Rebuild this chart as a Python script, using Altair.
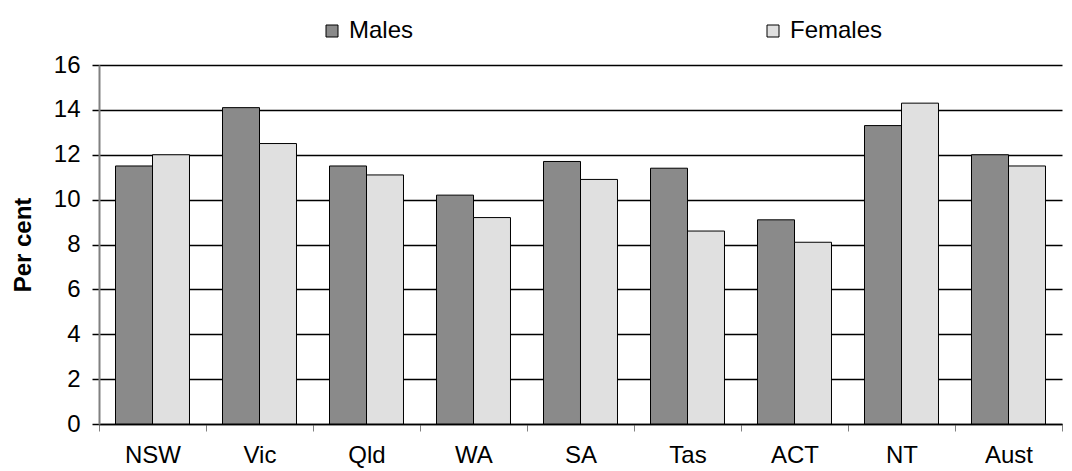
import altair as alt
import pandas as pd

# Share of population by state/territory, split by sex
regions = ["NSW", "Vic", "Qld", "WA", "SA", "Tas", "ACT", "NT", "Aust"]
males = [11.5, 14.1, 11.5, 10.2, 11.7, 11.4, 9.1, 13.3, 12.0]
females = [12.0, 12.5, 11.1, 9.2, 10.9, 8.6, 8.1, 14.3, 11.5]
series = ["Males", "Females"]
y_ticks = [0, 2, 4, 6, 8, 10, 12, 14, 16]

rows = []
for r, m, f in zip(regions, males, females):
    rows.append({"Region": r, "Sex": "Males", "Value": m})
    rows.append({"Region": r, "Sex": "Females", "Value": f})
df = pd.DataFrame(rows)

FONT = "Liberation Sans"
FS = 24

chart = (
    alt.Chart(df)
    .mark_bar(stroke="black", strokeWidth=1)
    .encode(
        x=alt.X(
            "Region:N",
            sort=regions,
            scale=alt.Scale(paddingInner=0, paddingOuter=0),
            axis=alt.Axis(
                title=None,
                labelAngle=0,
                tickBand="extent",
                tickSize=7,
                tickColor="#808080",
                domainColor="black",
                domainWidth=1.5,
                labelFontSize=FS,
                labelFont=FONT,
                labelColor="black",
                labelPadding=12,
                grid=False,
            ),
        ),
        xOffset=alt.XOffset(
            "Sex:N",
            sort=series,
            scale=alt.Scale(paddingInner=0, paddingOuter=0.446),
        ),
        y=alt.Y(
            "Value:Q",
            scale=alt.Scale(domain=[0, 16], nice=False),
            axis=alt.Axis(
                title="Per cent",
                titleFontSize=FS,
                titleFont=FONT,
                titleFontWeight="bold",
                titleColor="black",
                titlePadding=18,
                values=y_ticks,
                labelFontSize=FS,
                labelFont=FONT,
                labelColor="black",
                labelPadding=12,
                tickSize=7,
                tickColor="black",
                tickWidth=1.5,
                domainColor="#808080",
                domainWidth=2,
                grid=True,
                gridColor="black",
                gridWidth=1.5,
            ),
        ),
        color=alt.Color(
            "Sex:N",
            sort=series,
            scale=alt.Scale(domain=series, range=["#8a8a8a", "#e0e0e0"]),
            legend=alt.Legend(
                title=None,
                orient="none",
                direction="horizontal",
                legendX=221,
                legendY=-46,
                symbolType="square",
                symbolSize=144,
                symbolStrokeColor="black",
                symbolStrokeWidth=1,
                symbolOpacity=1,
                labelFontSize=FS,
                labelFont=FONT,
                labelColor="black",
                labelOffset=5,
                columnPadding=347,
            ),
        ),
    )
    .properties(
        width=963,
        height=359,
        autosize=alt.AutoSizeParams(type="none"),
        padding={"left": 99, "top": 65, "right": 10, "bottom": 47},
    )
    .configure_view(stroke=None)
)

chart.save("out.html", embed_options={"renderer": "svg", "actions": False})
